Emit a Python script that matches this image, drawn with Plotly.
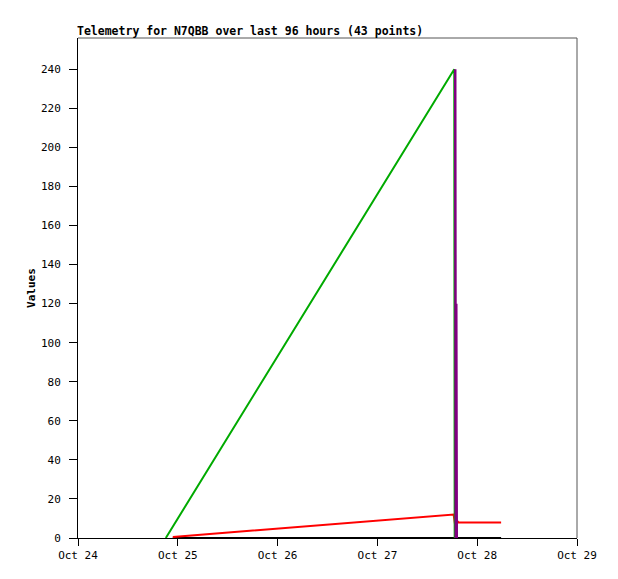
import plotly.graph_objects as go

# Data
green_t = ["2023-10-24 21:07", "2023-10-27 18:29", "2023-10-27 18:35"]
green_v = [0, 240, 0]

purple_t = ["2023-10-27 18:43", "2023-10-27 18:50", "2023-10-27 18:58", "2023-10-27 19:05"]
purple_v = [240, 0, 120, 0]

red_t = ["2023-10-24 22:48", "2023-10-27 18:20", "2023-10-27 19:00", "2023-10-27 19:05",
         "2023-10-27 19:30", "2023-10-28 05:45"]
red_v = [0.5, 12, 2, 9, 8, 8]

black_t = ["2023-10-24 22:48", "2023-10-28 05:45"]
black_v = [0, 0]

x_ticks = ["2023-10-24", "2023-10-25", "2023-10-26", "2023-10-27", "2023-10-28", "2023-10-29"]
x_labels = ["Oct 24", "Oct 25", "Oct 26", "Oct 27", "Oct 28", "Oct 29"]
y_ticks = list(range(0, 241, 20))

FONT = "DejaVu Sans Mono"

fig = go.Figure()
fig.add_trace(go.Scatter(x=black_t, y=black_v, mode="lines", line=dict(color="#000000", width=2)))
fig.add_trace(go.Scatter(x=red_t, y=red_v, mode="lines", line=dict(color="#ff0000", width=2)))
fig.add_trace(go.Scatter(x=green_t, y=green_v, mode="lines", line=dict(color="#00aa00", width=2)))
fig.add_trace(go.Scatter(x=purple_t, y=purple_v, mode="lines", line=dict(color="#800080", width=2.5)))

fig.update_layout(
    width=618, height=579,
    margin=dict(l=70, r=49, t=30, b=49),
    paper_bgcolor="white", plot_bgcolor="white",
    showlegend=False,
    title=dict(text="<b>Telemetry for N7QBB over last 96 hours (43 points)</b>",
               x=69/618, xanchor="left", y=1-23/579, yanchor="middle",
               font=dict(family=FONT, size=11.5, color="black")),
    font=dict(family=FONT, size=11, color="black"),
    xaxis=dict(range=["2023-10-24", "2023-10-29"], tickvals=x_ticks, ticktext=x_labels,
               showgrid=False, zeroline=False, showline=True, linecolor="black", linewidth=1,
               ticks="outside", ticklen=7, tickcolor="black", tickwidth=1,
               tickfont=dict(family=FONT, size=11, color="black")),
    yaxis=dict(range=[0, 256], tickvals=y_ticks, showgrid=False, zeroline=False,
               showline=True, linecolor="black", linewidth=1,
               ticks="outside", ticklen=8, tickcolor="black", tickwidth=1,
               ticklabelstandoff=6,
               title=dict(text="<b>Values</b>", font=dict(family=FONT, size=11), standoff=3),
               tickfont=dict(family=FONT, size=11, color="black")),
)

# top and right frame in gray
fig.add_shape(type="line", xref="paper", yref="paper", x0=0, x1=1, y0=1, y1=1,
              line=dict(color="#555555", width=1))
fig.add_shape(type="line", xref="paper", yref="paper", x0=1, x1=1, y0=0, y1=1,
              line=dict(color="#555555", width=1))

fig.write_html("out.html")
